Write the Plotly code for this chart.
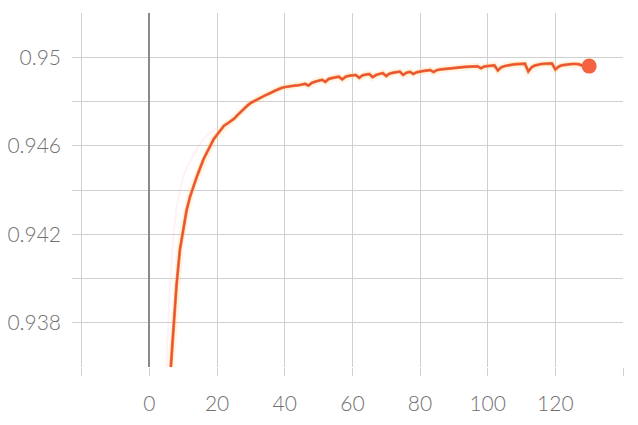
import plotly.graph_objects as go

# ---- data ----
epochs = list(range(6, 131))
smoothed = [
    0.9353, 0.9375, 0.9397, 0.9413, 0.9423, 0.9431, 0.9437, 0.9442, 0.9446, 0.9450,   # 6-15
    0.9454, 0.9457, 0.9460, 0.9463, 0.9465, 0.9467, 0.9469, 0.9470, 0.9471, 0.94722,  # 16-25
    0.94738, 0.94754, 0.94768, 0.94782, 0.94794, 0.94803, 0.94811, 0.94818, 0.94826, 0.94832,  # 26-35
    0.94840, 0.94848, 0.94855, 0.94861, 0.94865, 0.94868, 0.94870, 0.94872, 0.94873, 0.94878,  # 36-45
    0.94880, 0.94872, 0.94884, 0.94890, 0.94894, 0.94898, 0.94889, 0.94902, 0.94906, 0.94910,  # 46-55
    0.94912, 0.94900, 0.94912, 0.94916, 0.94918, 0.94920, 0.94907, 0.94918, 0.94922, 0.94924,  # 56-65
    0.94910, 0.94920, 0.94925, 0.94928, 0.94915, 0.94926, 0.94930, 0.94933, 0.94935, 0.94920,  # 66-75
    0.94930, 0.94934, 0.94924, 0.94932, 0.94936, 0.94938, 0.94940, 0.94942, 0.94933, 0.94942,  # 76-85
    0.94945, 0.94947, 0.94949, 0.94950, 0.94952, 0.94953, 0.94954, 0.94956, 0.94957, 0.94957,  # 86-95
    0.94958, 0.94959, 0.94950, 0.94958, 0.94960, 0.94962, 0.94963, 0.94940, 0.94955, 0.94960,  # 96-105
    0.94964, 0.94966, 0.94968, 0.94969, 0.94970, 0.94971, 0.94936, 0.94955, 0.94963, 0.94967,  # 106-115
    0.94970, 0.94971, 0.94972, 0.94972, 0.94945, 0.94958, 0.94964, 0.94967, 0.94969, 0.94970,  # 116-125
    0.94970, 0.94968, 0.94962, 0.94960, 0.94960,                                               # 126-130
]
raw_epochs = [5, 6, 7, 8, 9, 10, 11, 12, 13, 14, 15, 16, 18, 20]
raw_values = [0.9360, 0.9395, 0.9418, 0.9432, 0.9440, 0.9446, 0.9450, 0.9453, 0.9456, 0.9458, 0.9461, 0.9463, 0.9466, 0.9468]

x_tickvals = [-20, 0, 20, 40, 60, 80, 100, 120, 140]
x_ticktext = ["", "0", "20", "40", "60", "80", "100", "120", ""]
y_tickvals = [0.936, 0.938, 0.940, 0.942, 0.944, 0.946, 0.948, 0.950, 0.952]
y_ticktext = ["", "0.938", "", "0.942", "", "0.946", "", "0.95", ""]

fig = go.Figure()
# faint raw curve
fig.add_trace(go.Scatter(x=raw_epochs, y=raw_values, mode="lines",
                         line=dict(color="rgba(245,170,190,0.15)", width=2),
                         hoverinfo="skip", showlegend=False))
# soft halo
fig.add_trace(go.Scatter(x=epochs, y=smoothed, mode="lines",
                         line=dict(color="rgba(255,205,130,0.22)", width=7),
                         hoverinfo="skip", showlegend=False))
# orange under-line
fig.add_trace(go.Scatter(x=epochs, y=smoothed, mode="lines",
                         line=dict(color="#f3893a", width=3),
                         hoverinfo="skip", showlegend=False))
# red main line
fig.add_trace(go.Scatter(x=epochs, y=smoothed, mode="lines",
                         line=dict(color="rgba(232,72,58,0.85)", width=1.8),
                         showlegend=False))
# end marker
fig.add_trace(go.Scatter(x=[epochs[-1]], y=[smoothed[-1]], mode="markers",
                         marker=dict(color="#f4623f", size=15),
                         cliponaxis=False, showlegend=False))

tick_font = dict(family="Lato, 'Open Sans', sans-serif", size=21, color="#707070", weight=300)

fig.update_layout(
    width=630, height=417,
    margin=dict(l=64, r=15, t=5, b=58, autoexpand=False),
    paper_bgcolor="white", plot_bgcolor="white",
    showlegend=False,
)
fig.update_xaxes(
    range=[-22.9, 140], tickmode="array", tickvals=x_tickvals, ticktext=x_ticktext,
    showgrid=True, gridcolor="#cfcfcf", gridwidth=1.3,
    zeroline=True, zerolinecolor="#8a8a8a", zerolinewidth=2,
    ticks="outside", ticklen=8, tickcolor="#cfcfcf", tickwidth=1.3,
    ticklabelstandoff=10, automargin=False,
    showline=False, tickfont=tick_font,
)
fig.update_yaxes(
    range=[0.936, 0.952], tickmode="array", tickvals=y_tickvals, ticktext=y_ticktext,
    showgrid=True, gridcolor="#cfcfcf", gridwidth=1.3,
    zeroline=False, ticks="", ticklabelstandoff=10, automargin=False,
    showline=False, tickfont=tick_font,
)

fig.write_html("out.html")
